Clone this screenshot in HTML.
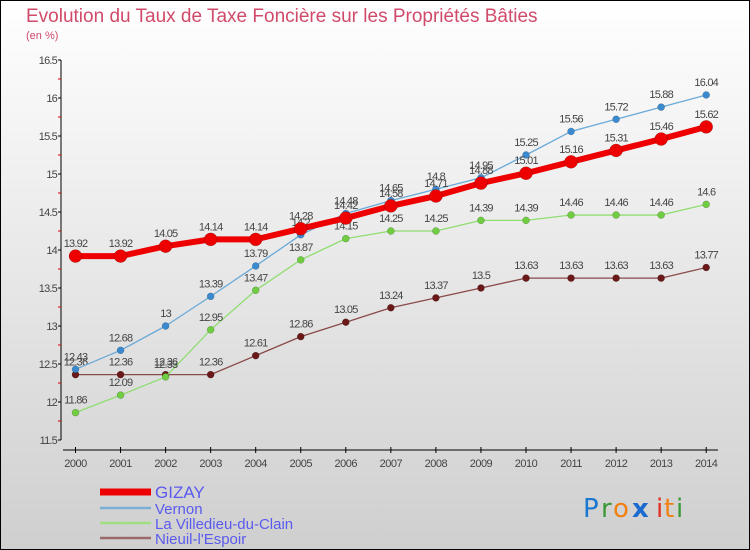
<!DOCTYPE html>
<html><head><meta charset="utf-8"><style>
html,body{margin:0;padding:0}
body{width:750px;height:550px;overflow:hidden;font-family:"Liberation Sans","DejaVu Sans",sans-serif}
svg{display:block}
</style></head><body>
<svg id="c" width="750" height="550" xmlns="http://www.w3.org/2000/svg">
<defs><linearGradient id="bg" x1="0" y1="0" x2="0" y2="1"><stop offset="0" stop-color="#ffffff"/><stop offset="1" stop-color="#cfcfcf"/></linearGradient></defs>
<rect x="0.5" y="0.5" width="749" height="549" fill="url(#bg)" stroke="#000"/>
<text x="26" y="22" font-size="19" fill="#d04a6a">Evolution du Taux de Taxe Foncière sur les Propriétés Bâties</text>
<text x="26" y="39" font-size="11" fill="#d04a6a">(en %)</text>
<g id="axes"></g><g id="series"></g><g id="legend"></g>
<g font-size="26" font-family="'DejaVu Sans',sans-serif">
<text x="583" y="517" fill="#1a78d0">P</text><text x="601" y="517" fill="#3a9a3a">r</text><text x="613" y="517" fill="#f08010">o</text><text x="632" y="517" fill="#1a6ad0" font-weight="bold">x</text><text x="656" y="517" fill="#e03020">i</text><text x="664" y="517" fill="#f08010">t</text><text x="676" y="517" fill="#3a9a3a">i</text>
</g>
</svg>
<script>
const years=[2000,2001,2002,2003,2004,2005,2006,2007,2008,2009,2010,2011,2012,2013,2014];
const yTicks=[11.5,12,12.5,13,13.5,14,14.5,15,15.5,16,16.5];
const gizay=[13.92,13.92,14.05,14.14,14.14,14.28,14.42,14.58,14.71,14.88,15.01,15.16,15.31,15.46,15.62];
const vernon=[12.43,12.68,13,13.39,13.79,14.2,14.48,14.65,14.8,14.95,15.25,15.56,15.72,15.88,16.04];
const villedieu=[11.86,12.09,12.33,12.95,13.47,13.87,14.15,14.25,14.25,14.39,14.39,14.46,14.46,14.46,14.6];
const nieuil=[12.36,12.36,12.36,12.36,12.61,12.86,13.05,13.24,13.37,13.5,13.63,13.63,13.63,13.63,13.77];
const seriesNames=["GIZAY","Vernon","La Villedieu-du-Clain","Nieuil-l'Espoir"];
const NS="http://www.w3.org/2000/svg";
function X(i){return 75.5+i*45.05;}
function Y(v){return 440-(v-11.5)*76;}
function mk(t,a,p){const e=document.createElementNS(NS,t);for(const k in a)e.setAttribute(k,a[k]);p.appendChild(e);return e;}
const ax=document.getElementById('axes');
const yl=mk('line',{x1:61,y1:60,x2:61,y2:440,stroke:'#000'},ax);


yTicks.forEach((v,i)=>{
 mk('line',{x1:58,y1:Y(v),x2:61,y2:Y(v),stroke:'#000'},ax);
 if(i<yTicks.length-1)mk('line',{x1:58,y1:Y(v+0.25),x2:61,y2:Y(v+0.25),stroke:'#d00'},ax);
 const t=mk('text',{x:57,y:Y(v)+4,'text-anchor':'end','font-size':11,fill:'#444','letter-spacing':'-0.8'},ax);
 t.textContent=String(v);
 
 
});
const xl=mk('line',{x1:63,y1:450,x2:718,y2:450,stroke:'#000'},ax);


years.forEach((yr,i)=>{
 mk('line',{x1:X(i),y1:447,x2:X(i),y2:453,stroke:'#000'},ax);
 const t=mk('text',{x:X(i),y:467,'text-anchor':'middle','font-size':11,fill:'#444','letter-spacing':'-0.5'},ax);
 t.textContent=yr;
 
 
});
const sg=document.getElementById('series');
function draw(data,color,dot,width,r,name){
 const g=mk('g',{},sg);
 
 
 mk('polyline',{points:data.map((v,i)=>X(i)+','+Y(v)).join(' '),fill:'none',stroke:color,'stroke-width':width,'stroke-linejoin':'round'},g);
 data.forEach((v,i)=>{
  const c=mk('circle',{cx:X(i),cy:Y(v),r:r,fill:dot,stroke:'rgba(0,0,0,0.3)','stroke-width':0.5},g);
  
  
  const t=mk('text',{x:X(i),y:Y(v)-9,'text-anchor':'middle','font-size':11,fill:'#444','letter-spacing':'-0.8'},g);
  t.textContent=String(v);
  
  
 });
}
draw(nieuil,'#8a4a4a','#6a1818',1.3,3.5,'series-nieuil');
draw(villedieu,'#90dd70','#70cc40',1.3,3.5,'series-villedieu');
draw(vernon,'#6aaad8','#3a8ad0',1.3,3.5,'series-vernon');
draw(gizay,'#ee0000','#ee0000',6,6.5,'series-gizay');
const lg=document.getElementById('legend');
const lc=['#ee0000','#7ab0d8','#a0e080','#9a6a6a'],lw=[7,2.5,2.5,2.5],ly=[492,508,523,538],fs=[17,15,15,15];
seriesNames.forEach((n,i)=>{
 const g=mk('g',{},lg);
 
 
 mk('line',{x1:100,y1:ly[i],x2:151,y2:ly[i],stroke:lc[i],'stroke-width':lw[i]},g);
 const t=mk('text',{x:155,y:ly[i]+6,'font-size':fs[i],fill:'#5a5aee'},g);
 t.textContent=n;
});
</script>
</body></html>
